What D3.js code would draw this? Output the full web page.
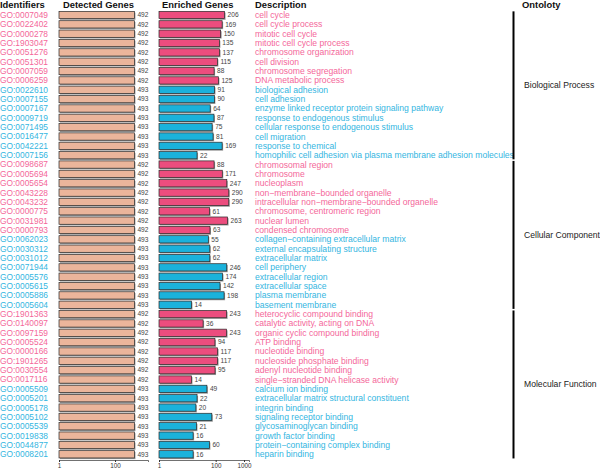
<!DOCTYPE html>
<html>
<head>
<meta charset="utf-8">
<script src="https://cdn.jsdelivr.net/npm/d3@7"></script>
<style>
  body { margin: 0; background: #fff; }
  svg { font-family: "Liberation Sans", Arial, sans-serif; }
</style>
</head>
<body>
<div id="chart"></div>
<script>
const ids = [
  "GO:0007049","GO:0022402","GO:0000278","GO:1903047","GO:0051276","GO:0051301","GO:0007059","GO:0006259",
  "GO:0022610","GO:0007155","GO:0007167","GO:0009719","GO:0071495","GO:0016477","GO:0042221","GO:0007156",
  "GO:0098687","GO:0005694","GO:0005654","GO:0043228","GO:0043232","GO:0000775","GO:0031981","GO:0000793",
  "GO:0062023","GO:0030312","GO:0031012","GO:0071944","GO:0005576","GO:0005615","GO:0005886","GO:0005604",
  "GO:1901363","GO:0140097","GO:0097159","GO:0005524","GO:0000166","GO:1901265","GO:0030554","GO:0017116",
  "GO:0005509","GO:0005201","GO:0005178","GO:0005102","GO:0005539","GO:0019838","GO:0044877","GO:0008201"
];
const descriptions = [
  "cell cycle","cell cycle process","mitotic cell cycle","mitotic cell cycle process","chromosome organization","cell division","chromosome segregation","DNA metabolic process",
  "biological adhesion","cell adhesion","enzyme linked receptor protein signaling pathway","response to endogenous stimulus","cellular response to endogenous stimulus","cell migration","response to chemical","homophilic cell adhesion via plasma membrane adhesion molecules",
  "chromosomal region","chromosome","nucleoplasm","non\u2212membrane\u2212bounded organelle","intracellular non\u2212membrane\u2212bounded organelle","chromosome, centromeric region","nuclear lumen","condensed chromosome",
  "collagen\u2212containing extracellular matrix","external encapsulating structure","extracellular matrix","cell periphery","extracellular region","extracellular space","plasma membrane","basement membrane",
  "heterocyclic compound binding","catalytic activity, acting on DNA","organic cyclic compound binding","ATP binding","nucleotide binding","nucleoside phosphate binding","adenyl nucleotide binding","single\u2212stranded DNA helicase activity",
  "calcium ion binding","extracellular matrix structural constituent","integrin binding","signaling receptor binding","glycosaminoglycan binding","growth factor binding","protein\u2212containing complex binding","heparin binding"
];
const detected = [
  492,492,492,492,492,492,492,492, 493,493,493,493,493,493,493,493,
  492,492,492,492,492,492,492,492, 493,493,493,493,493,493,493,493,
  492,492,492,492,492,492,492,492, 493,493,493,493,493,493,493,493
];
const enriched = [
  206,169,150,135,137,115,88,125, 91,90,64,87,75,81,169,22,
  88,171,247,290,290,61,263,63, 55,62,62,246,174,142,198,14,
  243,36,243,94,117,117,95,14, 49,22,20,73,21,16,60,16
];
const direction = [
  "up","up","up","up","up","up","up","up", "down","down","down","down","down","down","down","down",
  "up","up","up","up","up","up","up","up", "down","down","down","down","down","down","down","down",
  "up","up","up","up","up","up","up","up", "down","down","down","down","down","down","down","down"
];
const ontologies = ["Biological Process","Cellular Component","Molecular Function"];
const ontologySize = [16, 16, 16];
const detectedTicks = [1, 100];
const enrichedTicks = [1, 100, 1000];

const textColor = {up: "#f4679a", down: "#34b6df"};
const barColor = {up: "#ec4d7e", down: "#1bb2db"};

const width = 600, height = 469;
const svg = d3.select("#chart").append("svg")
    .attr("width", width)
    .attr("height", height);

const rows = ids.map((id, i) => ({
    id: id, desc: descriptions[i], detected: detected[i], enriched: enriched[i], dir: direction[i]
}));

const y = d3.scaleBand()
    .domain(ids)
    .range([11.35, 457.95])
    .paddingInner(0.22);

const xDet = d3.scaleLog().domain([1, 1500]).range([59, 148]);
const xEnr = d3.scaleLog().domain([1, 1500]).range([159, 249]);

// headers
const headers = [["Identifiers", 0], ["Detected Genes", 63], ["Enriched Genes", 162], ["Description", 255], ["Ontoloty", 522]];
svg.selectAll("text.header")
    .data(headers)
    .join("text")
    .attr("class", "header")
    .attr("x", d => d[1])
    .attr("y", 7.5)
    .style("font-size", "9.4px")
    .style("font-weight", "bold")
    .attr("fill", "#111")
    .text(d => d[0]);

// identifiers
svg.selectAll("text.id")
    .data(rows)
    .join("text")
    .attr("class", "id")
    .attr("x", 0)
    .attr("y", d => y(d.id) + y.bandwidth() / 2)
    .attr("dy", "0.35em")
    .style("font-size", "8.4px")
    .attr("fill", d => textColor[d.dir])
    .text(d => d.id);

function drawBars(cls, x, key, fill) {
    const g = svg.append("g").attr("class", cls);
    g.selectAll("rect.shadow")
        .data(rows)
        .join("rect")
        .attr("class", "shadow")
        .attr("x", x(1) + 1)
        .attr("y", d => y(d.id) + 1.2)
        .attr("width", d => x(d[key]) - x(1))
        .attr("height", y.bandwidth())
        .attr("fill", "#9a9a9a");
    g.selectAll("rect.bar")
        .data(rows)
        .join("rect")
        .attr("class", "bar")
        .attr("x", x(1))
        .attr("y", d => y(d.id))
        .attr("width", d => x(d[key]) - x(1))
        .attr("height", y.bandwidth())
        .attr("fill", fill)
        .attr("stroke", "#2a2a2a")
        .attr("stroke-width", 0.7);
    g.selectAll("text.val")
        .data(rows)
        .join("text")
        .attr("class", "val")
        .attr("x", d => x(d[key]) + 3)
        .attr("y", d => y(d.id) + y.bandwidth() / 2)
        .attr("dy", "0.35em")
        .style("font-size", "6.6px")
        .attr("fill", "#444")
        .text(d => d[key]);
}

drawBars("detected", xDet, "detected", () => "#ebb59b");
drawBars("enriched", xEnr, "enriched", d => barColor[d.dir]);

// axes
function drawAxis(x, ticks) {
    const ax = svg.append("g")
        .attr("transform", "translate(0,460)")
        .call(d3.axisBottom(x).tickValues(ticks).tickFormat(d3.format("d")).tickSize(2).tickPadding(1.5));
    ax.select(".domain").attr("stroke", "#333").attr("stroke-width", 0.7);
    ax.selectAll(".tick line").attr("stroke", "#333");
    ax.selectAll(".tick text").style("font-size", "6.3px").attr("fill", "#333").attr("font-family", "Liberation Sans, Arial, sans-serif");
}
drawAxis(xDet, detectedTicks);
drawAxis(xEnr, enrichedTicks);

// descriptions
svg.selectAll("text.desc")
    .data(rows)
    .join("text")
    .attr("class", "desc")
    .attr("x", 255)
    .attr("y", d => y(d.id) + y.bandwidth() / 2)
    .attr("dy", "0.35em")
    .style("font-size", "8.6px")
    .attr("fill", d => textColor[d.dir])
    .text(d => d.desc);

// ontology brackets
let start = 0;
ontologies.forEach((name, k) => {
    const first = ids[start];
    const last = ids[start + ontologySize[k] - 1];
    const y0 = y(first) - 0.5;
    const y1 = y(last) + y.bandwidth() + 1;
    svg.append("line")
        .attr("x1", 513.5).attr("x2", 513.5)
        .attr("y1", y0 + 0.5).attr("y2", y1 - 0.5)
        .attr("stroke", "#000")
        .attr("stroke-width", 2);
    svg.append("text")
        .attr("x", 524)
        .attr("y", (y0 + y1) / 2)
        .attr("dy", "0.35em")
        .style("font-size", "8.6px")
        .attr("fill", "#222")
        .text(name);
    start += ontologySize[k];
});
</script>
</body>
</html>
